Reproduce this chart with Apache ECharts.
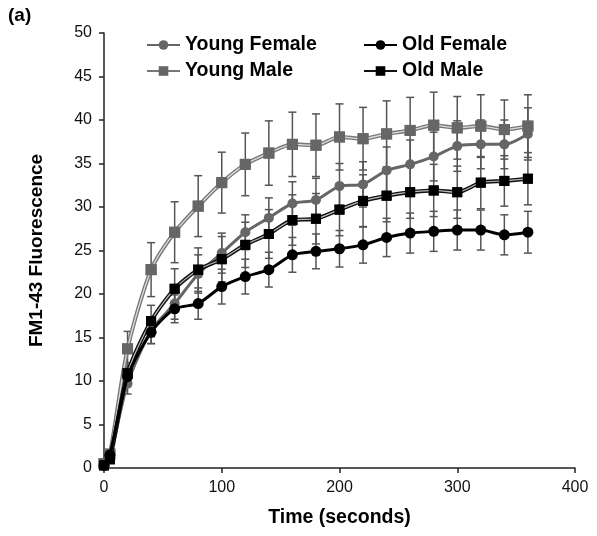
<!DOCTYPE html>
<html>
<head>
<meta charset="utf-8">
<script src="https://cdn.jsdelivr.net/npm/echarts@6/dist/echarts.min.js"></script>
<style>html,body{margin:0;padding:0;background:#fff}#c{width:597px;height:536px}</style>
</head>
<body>
<div id="c"></div>
<script>
const time = [0, 5, 20, 40, 60, 80, 100, 120, 140, 160, 180, 200, 220, 240, 260, 280, 300, 320, 340, 360];
const youngFemale = [0.4, 1.2, 9.7, 15.8, 18.9, 22.3, 24.7, 27.1, 28.75, 30.4, 30.8, 32.4, 32.6, 34.2, 34.9, 35.8, 37.0, 37.2, 37.2, 38.4];
const oldFemale = [0.3, 1.5, 10.5, 15.6, 18.3, 18.9, 20.85, 22.0, 22.8, 24.5, 24.9, 25.2, 25.65, 26.5, 27.0, 27.2, 27.35, 27.35, 26.8, 27.1];
const youngMale = [0.5, 1.6, 13.7, 22.8, 27.1, 30.1, 32.8, 34.9, 36.2, 37.2, 37.1, 38.05, 37.85, 38.4, 38.8, 39.4, 39.1, 39.3, 38.9, 39.3];
const oldMale = [0.3, 1.0, 10.9, 16.9, 20.6, 22.8, 24.0, 25.65, 26.9, 28.5, 28.65, 29.7, 30.7, 31.3, 31.7, 31.9, 31.7, 32.8, 33.0, 33.25];
const yfErr = [0.2, 0.4, 1.2, 1.5, 1.8, 2.2, 2.3, 2.0, 2.3, 2.5, 2.5, 2.6, 2.6, 2.7, 2.8, 2.8, 2.9, 2.8, 2.8, 3.0];
const ofErr = [0.2, 0.3, 1.0, 1.3, 1.6, 1.8, 2.0, 2.0, 2.0, 2.0, 2.0, 2.1, 2.1, 2.2, 2.3, 2.3, 2.3, 2.3, 2.3, 2.4];
const ymErr = [0.3, 0.5, 2.0, 3.1, 3.5, 3.5, 3.5, 3.6, 3.7, 3.7, 3.6, 3.8, 3.6, 3.8, 3.8, 3.8, 3.6, 3.6, 3.4, 3.6];
const omErr = [0.2, 0.3, 1.2, 1.8, 2.3, 2.5, 2.6, 2.6, 2.8, 2.9, 2.9, 3.0, 3.0, 3.0, 3.0, 3.0, 3.0, 3.0, 2.9, 3.0];
const xTicks = [0, 100, 200, 300, 400];
const yTicks = [0, 5, 10, 15, 20, 25, 30, 35, 40, 45, 50];

const pts = v => time.map((t, i) => [t, v[i]]);
const errData = (v, e) => time.map((t, i) => [t, v[i] - e[i], v[i] + e[i]]);
function errSeries(v, e) {
  return {
    type: 'custom', silent: true, z: 1,
    data: errData(v, e),
    encode: { x: 0, y: [1, 2] },
    renderItem: function (params, api) {
      const x = api.value(0), lo = api.value(1), hi = api.value(2);
      const p1 = api.coord([x, lo]), p2 = api.coord([x, hi]);
      const w = 4;
      const st = { stroke: '#555', lineWidth: 1.5 };
      return { type: 'group', children: [
        { type: 'line', shape: { x1: p1[0], y1: p1[1], x2: p2[0], y2: p2[1] }, style: st },
        { type: 'line', shape: { x1: p1[0] - w, y1: p1[1], x2: p1[0] + w, y2: p1[1] }, style: st },
        { type: 'line', shape: { x1: p2[0] - w, y1: p2[1], x2: p2[0] + w, y2: p2[1] }, style: st }
      ]};
    }
  };
}
const sm = 0.25;
const legText = { fontSize: 19.5, fontWeight: 'bold', color: '#000', fontFamily: 'Liberation Sans, Arial' };
const chart = echarts.init(document.getElementById('c'), null, { renderer: 'canvas' });
chart.setOption({
  animation: false,
  textStyle: { fontFamily: 'Liberation Sans, Arial, sans-serif' },
  grid: { left: 104, right: 22, top: 33, bottom: 68 },
  graphic: [{ type: 'text', left: 8, top: 6, style: { text: '(a)', font: 'bold 19px "Liberation Sans", Arial', fill: '#000' } }],
  legend: [
    { orient: 'vertical', left: 141, top: 30, itemWidth: 33, itemHeight: 12, itemGap: 6,
      data: ['Young Female', 'Young Male'], textStyle: legText },
    { orient: 'vertical', left: 358, top: 30, itemWidth: 33, itemHeight: 12, itemGap: 6,
      data: ['Old Female', 'Old Male'], textStyle: legText }
  ],
  xAxis: {
    type: 'value', min: 0, max: 400, interval: 100,
    name: 'Time (seconds)', nameLocation: 'middle', nameGap: 40, nameMoveOverlap: false,
    nameTextStyle: { fontSize: 19.5, fontWeight: 'bold', color: '#000' },
    axisLine: { lineStyle: { color: '#222', width: 1.5 } },
    axisTick: { length: 5, lineStyle: { color: '#222', width: 1.5 } },
    axisLabel: { fontSize: 16, color: '#111', margin: 12 },
    splitLine: { show: false }
  },
  yAxis: {
    type: 'value', min: 0, max: 50, interval: 5,
    name: 'FM1-43 Fluorescence', nameLocation: 'middle', nameGap: 58, nameMoveOverlap: false,
    nameTextStyle: { fontSize: 19, fontWeight: 'bold', color: '#000' },
    axisLine: { show: true, lineStyle: { color: '#222', width: 1.5 } },
    axisTick: { show: true, length: 5, lineStyle: { color: '#222', width: 1.5 } },
    axisLabel: { fontSize: 16, color: '#111', margin: 12 },
    splitLine: { show: false }
  },
  series: [
    errSeries(youngMale, ymErr), errSeries(youngFemale, yfErr), errSeries(oldMale, omErr), errSeries(oldFemale, ofErr),
    { name: 'Young Male', type: 'line', data: pts(youngMale), smooth: sm, z: 3, symbol: 'rect', symbolSize: 11,
      itemStyle: { color: '#666' }, lineStyle: { color: '#777', width: 4 } },
    { type: 'line', data: pts(youngMale), smooth: sm, z: 4, showSymbol: false, silent: true,
      lineStyle: { color: '#ddd', width: 1.3 } },
    { type: 'line', data: pts(youngMale), smooth: sm, z: 5, symbol: 'rect', symbolSize: 11, silent: true,
      itemStyle: { color: '#666' }, lineStyle: { width: 0 } },
    { name: 'Young Female', type: 'line', data: pts(youngFemale), smooth: sm, z: 6, symbol: 'circle', symbolSize: 10,
      itemStyle: { color: '#666' }, lineStyle: { color: '#666', width: 3 } },
    { name: 'Old Male', type: 'line', data: pts(oldMale), smooth: sm, z: 7, symbol: 'rect', symbolSize: 10,
      itemStyle: { color: '#000' }, lineStyle: { color: '#111', width: 4 } },
    { type: 'line', data: pts(oldMale), smooth: sm, z: 8, showSymbol: false, silent: true,
      lineStyle: { color: '#bbb', width: 1.2 } },
    { type: 'line', data: pts(oldMale), smooth: sm, z: 9, symbol: 'rect', symbolSize: 10, silent: true,
      itemStyle: { color: '#000' }, lineStyle: { width: 0 } },
    { name: 'Old Female', type: 'line', data: pts(oldFemale), smooth: sm, z: 10, symbol: 'circle', symbolSize: 11,
      itemStyle: { color: '#000' }, lineStyle: { color: '#000', width: 3 } }
  ]
});
</script>
</body>
</html>
